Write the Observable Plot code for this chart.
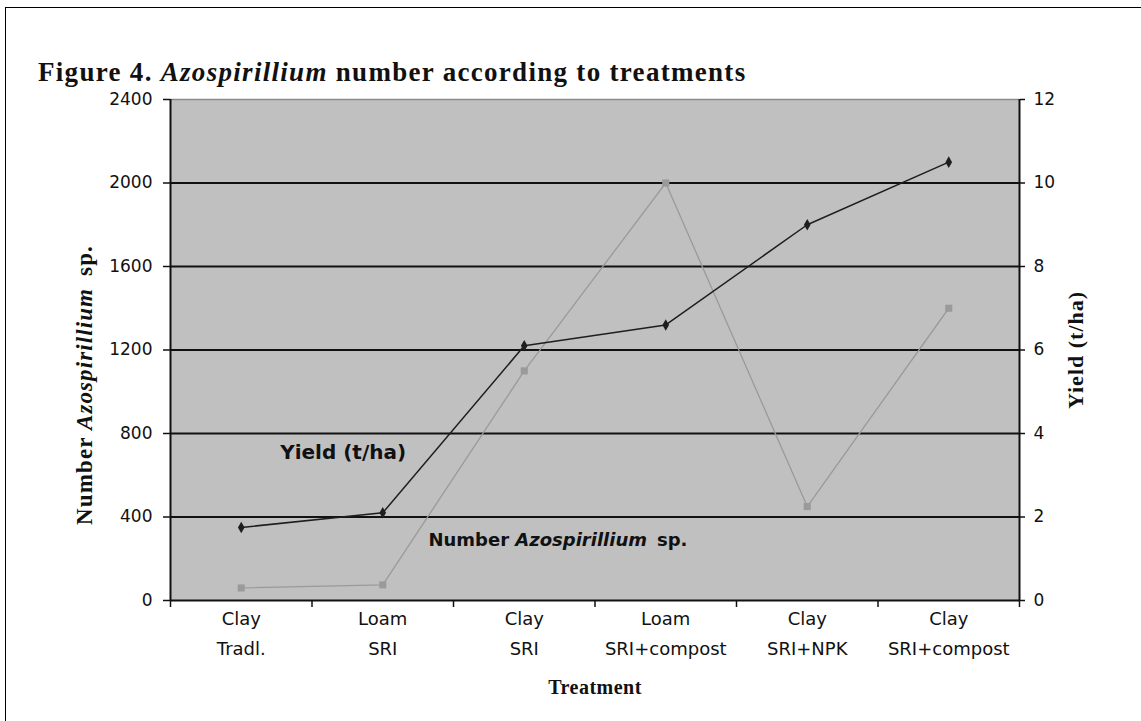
<!DOCTYPE html>
<html>
<head>
<meta charset="utf-8">
<script src="https://cdn.jsdelivr.net/npm/d3@7"></script>
<script src="https://cdn.jsdelivr.net/npm/@observablehq/plot@0.6"></script>
<style>
  html, body { margin: 0; padding: 0; background: #fff; }
  #page { position: relative; width: 1141px; height: 721px; overflow: hidden; }
  #frame { position: absolute; left: 5px; top: 7px; width: 1200px; height: 800px;
           border-left: 1px solid #000; border-top: 1px solid #000; }
  #title { position: absolute; left: 38px; top: 61px; font-family: "Liberation Serif", serif;
           font-weight: bold; font-size: 27px; letter-spacing: 1.3px; color: #111; white-space: nowrap; line-height: 23px; }
  #chart { position: absolute; left: 0; top: 0; }
  #chart svg { background: transparent !important; }
</style>
</head>
<body>
<div id="page">
  <div id="frame"></div>
  <div id="chart"></div>
  <div id="title">Figure 4. <i>Azospirillium</i> number according to treatments</div>
</div>
<script>
// ---- data ----
const categories = ["Clay\nTradl.", "Loam\nSRI", "Clay\nSRI", "Loam\nSRI+compost", "Clay\nSRI+NPK", "Clay\nSRI+compost"];
const azospirillumNumber = [60, 75, 1100, 2000, 450, 1400];
const yieldTha = [1.75, 2.1, 6.1, 6.6, 9.0, 10.5];
const leftTicks = [0, 400, 800, 1200, 1600, 2000, 2400];
const rightTicks = [0, 2, 4, 6, 8, 10, 12];

// ---- derived ----
const ratio = leftTicks[leftTicks.length - 1] / rightTicks[rightTicks.length - 1]; // left units per yield unit
const idx = categories.map((_, i) => i);
const boundaries = d3.range(categories.length + 1).map(i => i - 0.5);
const numberRows = idx.map(i => ({i, v: azospirillumNumber[i]}));
const yieldRows = idx.map(i => ({i, v: yieldTha[i] * ratio}));

const tickFont = "'DejaVu Sans', sans-serif";
const serif = "'Liberation Serif', serif";

const svg = Plot.plot({
  width: 1141,
  height: 721,
  marginLeft: 170,
  marginRight: 122,
  marginTop: 99,
  marginBottom: 121,
  style: {background: "transparent", fontFamily: tickFont, fontSize: "17px", color: "#111", overflow: "visible"},
  x: {type: "linear", domain: [-0.5, categories.length - 0.5]},
  y: {domain: [0, 2400]},
  marks: [
    Plot.frame({fill: "#c0c0c0", stroke: null}),
    Plot.ruleY(leftTicks.filter(d => d > 0 && d < 2400), {stroke: "#111", strokeWidth: 2}),
    Plot.ruleY([2400], {stroke: "#8a8a8a", strokeWidth: 1.5}),
    Plot.ruleY([0], {stroke: "#111", strokeWidth: 2}),
    Plot.ruleX([boundaries[0], boundaries[boundaries.length - 1]], {stroke: "#111", strokeWidth: 2}),
    // left axis
    Plot.axisY(leftTicks, {anchor: "left", tickSize: 7, tickPadding: 11, stroke: "#111", strokeWidth: 1.5,
      tickFormat: d => String(d), fontSize: 17, fontFamily: tickFont, fill: "#111", label: null}),
    // right axis (yield scale)
    Plot.axisY(rightTicks.map(d => d * ratio), {anchor: "right", tickSize: 5, tickPadding: 9, stroke: "#111", strokeWidth: 1.5,
      tickFormat: d => String(d / ratio), fontSize: 17, fontFamily: tickFont, fill: "#111", label: null}),
    // bottom ticks at category boundaries
    Plot.axisX(boundaries, {anchor: "bottom", tickSize: 7, stroke: "#111", strokeWidth: 1.5, tickFormat: () => "", label: null}),
    // category labels
    Plot.text(idx, {x: d => d, text: d => categories[d], frameAnchor: "bottom", lineAnchor: "top",
      dy: 3, lineHeight: 1.68, fontSize: 18, fontFamily: tickFont, fill: "#111", style: {letterSpacing: "0.5px"}}),
    // series: Azospirillum number
    Plot.line(numberRows, {x: "i", y: "v", stroke: "#9a9a9a", strokeWidth: 1.3}),
    Plot.dot(numberRows, {x: "i", y: "v", symbol: "square", r: 4, fill: "#9a9a9a", stroke: null}),
    // series: Yield
    Plot.line(yieldRows, {x: "i", y: "v", stroke: "#1e1e1e", strokeWidth: 1.5}),
    Plot.dot(yieldRows, {x: "i", y: "v", symbol: "diamond", r: 3.5, fill: "#1e1e1e", stroke: null}),
    // in-chart series labels
    Plot.text(["Yield (t/ha)"], {x: 0.72, y: 709, text: d => d, fontSize: 20, fontWeight: "bold",
      fontFamily: tickFont, fill: "#111", textAnchor: "middle"}),
    Plot.text(["Number Azospirillium sp."], {x: 1.323, y: 287, text: d => d, fontSize: 18, fontWeight: "bold",
      fontFamily: tickFont, fill: "#111", textAnchor: "start"}),
    // axis titles
    Plot.text(["Number Azospirillium sp."], {frameAnchor: "left", text: d => d, rotate: -90, dx: -86, dy: 35,
      textAnchor: "middle", fontSize: 23, fontWeight: "bold", fontFamily: serif, fill: "#111"}),
    Plot.text(["Yield (t/ha)"], {frameAnchor: "right", text: d => d, rotate: -90, dx: 56, dy: 0,
      textAnchor: "middle", fontSize: 22, fontWeight: "bold", fontFamily: serif, fill: "#111"}),
    Plot.text(["Treatment"], {frameAnchor: "bottom", text: d => d, dy: 93,
      textAnchor: "middle", fontSize: 20, fontWeight: "bold", fontFamily: serif, fill: "#111"})
  ]
});

// rich text (italic genus name) for the labels that mention Azospirillium
d3.select(svg).selectAll("text").each(function() {
  if (this.textContent === "Number Azospirillium sp.") {
    const t = d3.select(this);
    const rotated = (this.getAttribute("transform") || "").includes("rotate");
    t.text(null);
    t.append("tspan").text("Number ");
    t.append("tspan").attr("font-style", "italic").text("Azospirillium");
    t.append("tspan").attr("dx", rotated ? 12 : 10).text("sp.");
    if (rotated) t.style("letter-spacing", "1.1px");
  }
});
d3.select(svg).selectAll("text").each(function() {
  if (this.textContent === "Yield (t/ha)" && (this.getAttribute("transform") || "").includes("rotate")) {
    d3.select(this).style("letter-spacing", "1px");
  }
  if (this.textContent === "Treatment") d3.select(this).style("letter-spacing", "0.5px");
});

document.getElementById("chart").appendChild(svg);
</script>
</body>
</html>
